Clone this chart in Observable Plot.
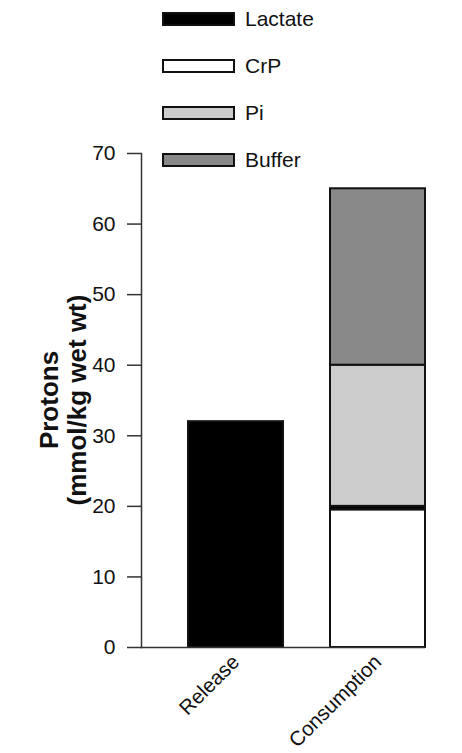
<!DOCTYPE html>
<html><head><meta charset="utf-8">
<script src="https://cdn.jsdelivr.net/npm/d3@7"></script>
<script src="https://cdn.jsdelivr.net/npm/@observablehq/plot@0.6"></script>
<style>
body{margin:0;background:#fff;font-family:"Liberation Sans",Arial,sans-serif;}
#wrap{position:relative;width:462px;height:753px;overflow:hidden;}
#legend{position:absolute;left:0;top:0;width:462px;height:180px;}
.item{position:absolute;left:162px;height:14px;display:flex;align-items:center;}
.sw{box-sizing:border-box;width:73px;height:14px;border:2px solid #111;}
.lab{margin-left:10px;font-size:21px;color:#111;line-height:14px;}
</style></head><body>
<div id="wrap"><div id="chart"></div><div id="legend"></div></div>
<script>
const categories = ["Release", "Consumption"];
const components = ["Lactate", "CrP", "Pi", "Buffer"];
const componentColors = ["#000000", "#ffffff", "#cccccc", "#898989"];
const releaseComponents = ["Lactate"];
const releaseValues = [32];
const consumptionComponents = ["CrP", "Lactate", "Pi", "Buffer"];
const consumptionValues = [19.5, 0.5, 20, 25];
const stackOrder = ["CrP", "Lactate", "Pi", "Buffer"];
const yTicks = [0, 10, 20, 30, 40, 50, 60, 70];
const yTitle = ["Protons", "(mmol/kg wet wt)"];

const rows = [
  ...releaseComponents.map((c, i) => ({category: "Release", component: c, value: releaseValues[i]})),
  ...consumptionComponents.map((c, i) => ({category: "Consumption", component: c, value: consumptionValues[i]}))
];

const chart = Plot.plot({
  width: 462, height: 753,
  marginLeft: 141, marginRight: 37, marginTop: 153, marginBottom: 106,
  style: {fontFamily: "'Liberation Sans', Arial, sans-serif", fontSize: "21px", color: "#111", background: "transparent"},
  x: {domain: categories, range: [141, 472], paddingInner: 0.33, paddingOuter: 0.33, label: null},
  y: {domain: [0, 70], label: null},
  color: {domain: components, range: componentColors},
  marks: [
    Plot.barY(rows, Plot.stackY({order: stackOrder}, {
      x: "category", y: "value", z: "component", fill: "component",
      stroke: "#111", strokeWidth: 2
    })),
    Plot.axisY({ticks: yTicks, tickSize: 14, tickPadding: 12, label: null, stroke: "#333", strokeWidth: 1.5, fill: "#111", fontSize: 21}),
    Plot.axisX({tickSize: 0, tickRotate: -45, tickPadding: 11, label: null, fill: "#111", fontSize: 20.5}),
    Plot.frame({anchor: "left", stroke: "#333", strokeWidth: 1.5}),
    Plot.ruleY([0], {stroke: "#333", strokeWidth: 1.5})
  ]
});
document.getElementById("chart").appendChild(chart);

// y-axis title (two lines, rotated)
const svg = d3.select(chart);
const t = svg.append("text")
  .attr("transform", "translate(86,400) rotate(-90)")
  .attr("text-anchor", "middle")
  .attr("fill", "#111")
  .style("font-size", "26px")
  .style("font-weight", "bold")
  .style("font-family", "'Liberation Sans', Arial, sans-serif");
yTitle.forEach((s, i) => t.append("tspan").attr("x", 0).attr("y", (i - 1) * 28).text(s));

// legend
const legendCenters = [18.5, 65.5, 112.5, 159.5];
const legend = document.getElementById("legend");
components.forEach((c, i) => {
  const it = document.createElement("div");
  it.className = "item";
  it.style.top = (legendCenters[i] - 7) + "px";
  const sw = document.createElement("div");
  sw.className = "sw";
  sw.style.background = componentColors[i];
  const lab = document.createElement("span");
  lab.className = "lab";
  lab.textContent = c;
  it.appendChild(sw); it.appendChild(lab);
  legend.appendChild(it);
});
</script>
</body></html>
